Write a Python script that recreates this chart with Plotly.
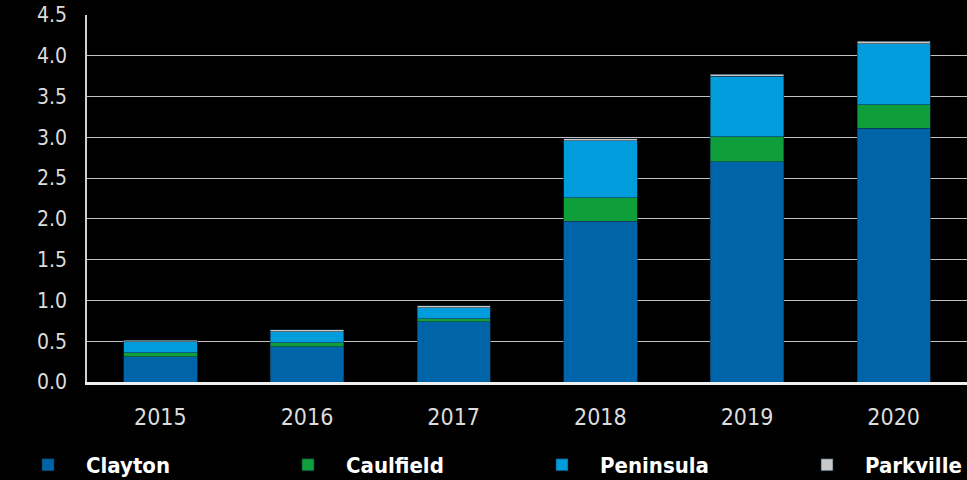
import plotly.graph_objects as go

years = ["2015", "2016", "2017", "2018", "2019", "2020"]
clayton = [0.31, 0.43, 0.74, 1.97, 2.70, 3.11]
caulfield = [0.05, 0.05, 0.035, 0.29, 0.31, 0.29]
peninsula = [0.135, 0.135, 0.135, 0.70, 0.74, 0.75]
parkville = [0.015, 0.025, 0.025, 0.02, 0.025, 0.03]

series = [
    ("Clayton", clayton, "#0064A8"),
    ("Caulfield", caulfield, "#0E9F3A"),
    ("Peninsula", peninsula, "#009CDC"),
    ("Parkville", parkville, "#C8C8C8"),
]
legend_ids = ["legend", "legend2", "legend3", "legend4"]
legend_x = [10, 270, 524, 789]

FONT = "Liberation Sans Narrow, DejaVu Sans Condensed, Roboto, sans-serif"

fig = go.Figure()
for (name, vals, col), lid in zip(series, legend_ids):
    fig.add_trace(go.Bar(
        x=years, y=vals, name=name, legend=lid, showlegend=True,
        marker=dict(color=col, line=dict(color="#10324a", width=0.6)),
    ))

layout_legends = {}
for lid, lx in zip(legend_ids, legend_x):
    layout_legends[lid] = dict(
        orientation="h", yref="container", y=0.075, yanchor="top",
        xref="container", x=lx / 967, xanchor="left",
        itemwidth=66,
        font=dict(family=FONT, size=22, color="white", weight="bold"),
        bgcolor="rgba(0,0,0,0)",
    )

fig.update_layout(
    barmode="stack",
    bargap=0.5,
    width=967, height=480,
    showlegend=True,
    paper_bgcolor="black", plot_bgcolor="black",
    margin=dict(l=87, r=0, t=15, b=98),
    xaxis=dict(
        type="category", showgrid=False,
        tickfont=dict(family=FONT, size=23, color="#dcdcdc"),
        showline=True, linecolor="#f0f0f0", linewidth=2.5,
        ticks="", ticklabelstandoff=13,
    ),
    yaxis=dict(
        range=[0, 4.5], dtick=0.5, tickformat=".1f",
        showgrid=True, gridcolor="#c0c0c0", gridwidth=1,
        showline=True, linecolor="#d0d0d0", linewidth=1.5,
        zeroline=False,
        tickfont=dict(family=FONT, size=21, color="#dcdcdc"),
        ticks="", ticklabelstandoff=14,
    ),
    **layout_legends,
)

fig.write_html(
    "out.html",
    config={"displayModeBar": False},
    post_script="document.body.style.margin='0';document.body.style.background='black';",
)
